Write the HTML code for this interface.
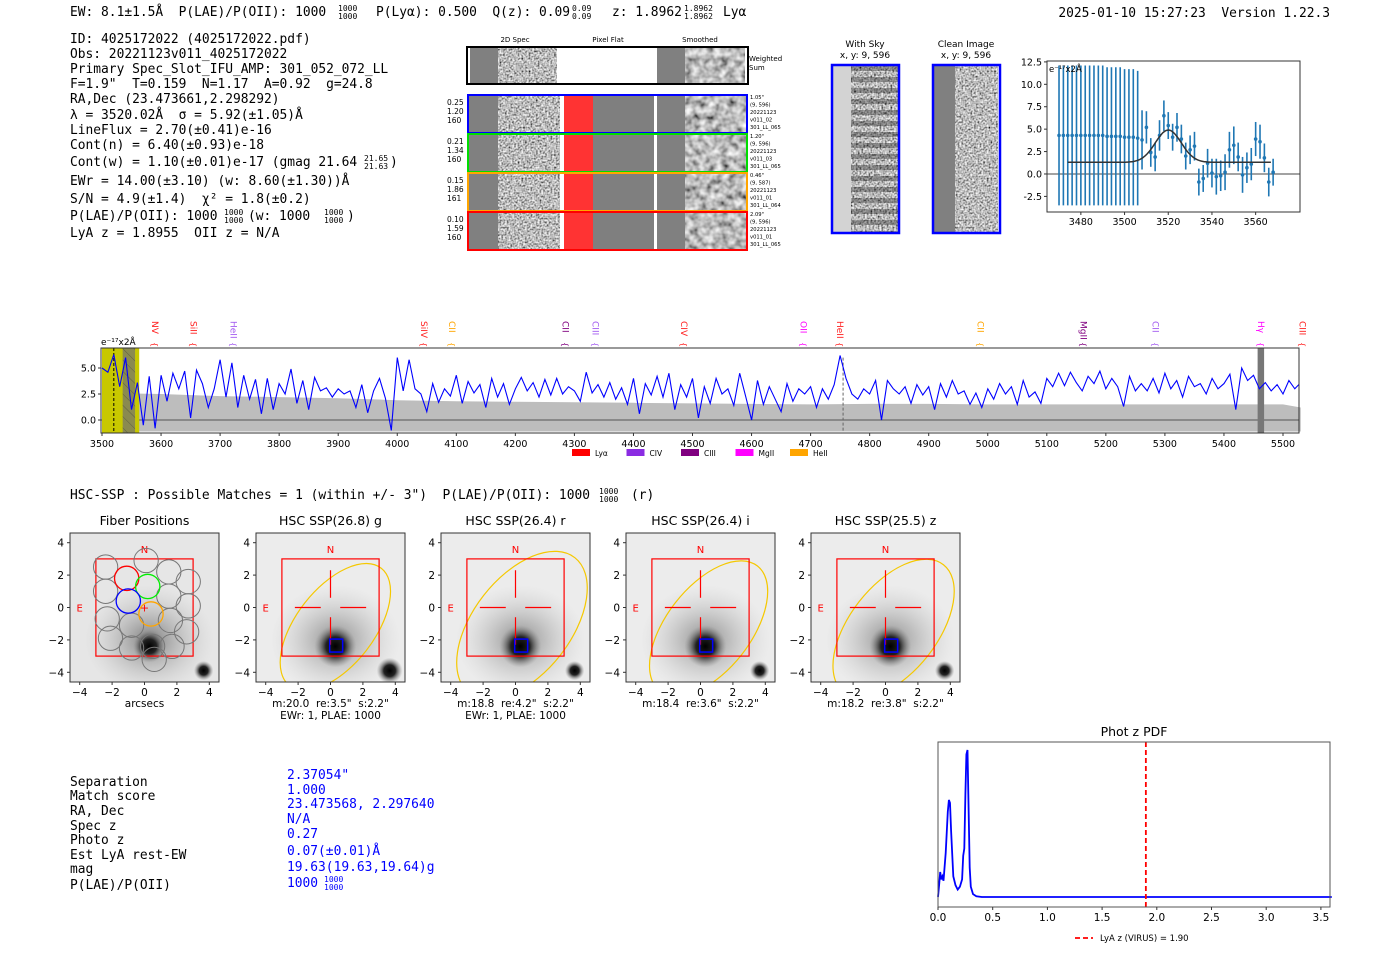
<!DOCTYPE html>
<html><head><meta charset="utf-8"><style>
html,body{margin:0;padding:0;background:#fff;}
svg{display:block;}
.m{font-family:"DejaVu Sans Mono","Liberation Mono",monospace;font-size:12.9px;fill:#000;white-space:pre;}
.m.f{font-size:8px;}
.s{font-family:"DejaVu Sans","Liberation Sans",sans-serif;}
</style></head><body>
<svg id="root" width="1400" height="953" viewBox="0 0 1400 953" xmlns="http://www.w3.org/2000/svg">
<defs>
<filter id="nz" x="0" y="0" width="1" height="1" filterUnits="objectBoundingBox"><feTurbulence type="fractalNoise" baseFrequency="0.55" numOctaves="1" seed="4"/><feColorMatrix type="matrix" values="1.7 0 0 0 -0.35 1.7 0 0 0 -0.35 1.7 0 0 0 -0.35 0 0 0 0 1"/></filter>
<filter id="nzs" x="0" y="0" width="1" height="1" filterUnits="objectBoundingBox"><feTurbulence type="fractalNoise" baseFrequency="0.14" numOctaves="2" seed="7"/><feColorMatrix type="matrix" values="1.3 0 0 0 -0.15 1.3 0 0 0 -0.15 1.3 0 0 0 -0.15 0 0 0 0 1"/></filter>
<pattern id="stripes" width="10" height="11" patternUnits="userSpaceOnUse"><rect width="10" height="5" fill="#000" opacity="0.3"/></pattern>
<pattern id="hatch" width="8" height="8" patternUnits="userSpaceOnUse" patternTransform="rotate(-45)"><line x1="0" y1="0" x2="0" y2="8" stroke="#333" stroke-width="1"/></pattern>
<radialGradient id="core"><stop offset="0" stop-color="#000"/><stop offset="0.45" stop-color="#222"/><stop offset="1" stop-color="#888" stop-opacity="0"/></radialGradient>
<radialGradient id="halo"><stop offset="0" stop-color="#555" stop-opacity="0.8"/><stop offset="0.5" stop-color="#888" stop-opacity="0.4"/><stop offset="1" stop-color="#bbb" stop-opacity="0"/></radialGradient>
</defs>

<g>
<text class="m" x="70" y="16">EW: 8.1±1.5Å  P(LAE)/P(OII): 1000</text>
<text class="m f" x="338" y="11">1000</text><text class="m f" x="338" y="19">1000</text>
<text class="m" x="376" y="16">P(Lyα): 0.500  Q(z): 0.09</text>
<text class="m f" x="572" y="11">0.09</text><text class="m f" x="572" y="19">0.09</text>
<text class="m" x="612" y="16">z: 1.8962</text>
<text class="m f" x="684" y="11">1.8962</text><text class="m f" x="684" y="19">1.8962</text>
<text class="m" x="723" y="16">Lyα</text>
<text class="m" x="1330" y="17" text-anchor="end">2025-01-10 15:27:23  Version 1.22.3</text>
</g>

<g>
<text class="m" x="70" y="43">ID: 4025172022 (4025172022.pdf)</text>
<text class="m" x="70" y="58">Obs: 20221123v011_4025172022</text>
<text class="m" x="70" y="73">Primary Spec_Slot_IFU_AMP: 301_052_072_LL</text>
<text class="m" x="70" y="88">F=1.9"  T=0.159  N=1.17  A=0.92  g=24.8</text>
<text class="m" x="70" y="103">RA,Dec (23.473661,2.298292)</text>
<text class="m" x="70" y="119">λ = 3520.02Å  σ = 5.92(±1.05)Å</text>
<text class="m" x="70" y="134">LineFlux = 2.70(±0.41)e-16</text>
<text class="m" x="70" y="149">Cont(n) = 6.40(±0.93)e-18</text>
<text class="m" x="70" y="166">Cont(w) = 1.10(±0.01)e-17 (gmag 21.64</text>
<text class="m f" x="364" y="161">21.65</text><text class="m f" x="364" y="169">21.63</text>
<text class="m" x="390" y="166">)</text>
<text class="m" x="70" y="185">EWr = 14.00(±3.10) (w: 8.60(±1.30))Å</text>
<text class="m" x="70" y="203">S/N = 4.9(±1.4)  χ² = 1.8(±0.2)</text>
<text class="m" x="70" y="220">P(LAE)/P(OII): 1000</text>
<text class="m f" x="224" y="215">1000</text><text class="m f" x="224" y="223">1000</text>
<text class="m" x="248" y="220">(w: 1000</text>
<text class="m f" x="324" y="215">1000</text><text class="m f" x="324" y="223">1000</text>
<text class="m" x="347" y="220">)</text>
<text class="m" x="70" y="237">LyA z = 1.8955  OII z = N/A</text>
</g>

<g id="spec2d" class="s">
<text x="515" y="42" font-size="7" text-anchor="middle">2D Spec</text>
<text x="608" y="42" font-size="7" text-anchor="middle">Pixel Flat</text>
<text x="700" y="42" font-size="7" text-anchor="middle">Smoothed</text>
<g>
<rect x="467" y="47" width="281" height="37" fill="#fff" stroke="#000" stroke-width="2"/>
<rect x="470" y="48" width="28" height="35" fill="#808080"/>
<rect x="498" y="48" width="59" height="35" filter="url(#nz)"/>
<rect x="657" y="48" width="28" height="35" fill="#808080"/>
<rect x="685" y="48" width="60" height="35" filter="url(#nzs)"/>
<text x="749" y="61" font-size="7">Weighted</text><text x="749" y="70" font-size="7">Sum</text>
</g>
</g>

<g class="s">
<text x="865" y="47" font-size="9" text-anchor="middle">With Sky</text>
<text x="865" y="58" font-size="9" text-anchor="middle">x, y: 9, 596</text>
<rect x="833" y="66" width="18" height="166" fill="#d3d3d3"/>
<rect x="851" y="66" width="47" height="166" filter="url(#nz)"/>
<rect x="851" y="66" width="47" height="166" fill="url(#stripes)"/>
<rect x="832" y="65" width="67" height="168" fill="none" stroke="#00f" stroke-width="2.5"/>
</g>
<g class="s">
<text x="966" y="47" font-size="9" text-anchor="middle">Clean Image</text>
<text x="966" y="58" font-size="9" text-anchor="middle">x, y: 9, 596</text>
<rect x="934" y="66" width="21" height="166" fill="#808080"/>
<rect x="955" y="66" width="43" height="166" filter="url(#nz)"/>
<rect x="933" y="65" width="67" height="168" fill="none" stroke="#00f" stroke-width="2.5"/>
</g>

<g id="fitplot" class="s"></g>
<g id="specplot" class="s"></g>

<text class="m" x="70" y="499">HSC-SSP : Possible Matches = 1 (within +/- 3")  P(LAE)/P(OII): 1000</text>
<text class="m f" x="599" y="494">1000</text><text class="m f" x="599" y="502">1000</text>
<text class="m" x="631" y="499">(r)</text>

<g id="cutouts" class="s"></g>

<g>
<text class="m" x="70" y="786">Separation</text>
<text class="m" x="70" y="800">Match score</text>
<text class="m" x="70" y="815">RA, Dec</text>
<text class="m" x="70" y="830">Spec z</text>
<text class="m" x="70" y="844">Photo z</text>
<text class="m" x="70" y="859">Est LyA rest-EW</text>
<text class="m" x="70" y="873">mag</text>
<text class="m" x="70" y="889">P(LAE)/P(OII)</text>
<text class="m" style="fill:#00f" x="287" y="779">2.37054"</text>
<text class="m" style="fill:#00f" x="287" y="794">1.000</text>
<text class="m" style="fill:#00f" x="287" y="808">23.473568, 2.297640</text>
<text class="m" style="fill:#00f" x="287" y="823">N/A</text>
<text class="m" style="fill:#00f" x="287" y="838">0.27</text>
<text class="m" style="fill:#00f" x="287" y="855">0.07(±0.01)Å</text>
<text class="m" style="fill:#00f" x="287" y="871">19.63(19.63,19.64)g</text>
<text class="m" style="fill:#00f" x="287" y="887">1000</text>
<text class="m f" style="fill:#00f" x="324" y="882">1000</text><text class="m f" style="fill:#00f" x="324" y="890">1000</text>
</g>

<g id="photz" class="s"></g>
</svg>

<script>
const rowOffsets = ["0.25","1.20","160","0.21","1.34","160","0.15","1.86","161","0.10","1.59","160"];
const fitWave = [3470,3472,3474,3476,3478,3480,3482,3484,3486,3488,3490,3492,3494,3496,3498,3500,3502,3504,3506,3508,3510,3512,3514,3516,3518,3520,3522,3524,3526,3528,3530,3532,3534,3536,3538,3540,3542,3544,3546,3548,3550,3552,3554,3556,3558,3560,3562,3564,3566,3568];
const fitFlux = [4.3,4.3,4.3,4.3,4.3,4.3,4.3,4.3,4.3,4.3,4.3,4.2,4.2,4.2,4.2,4.1,4.1,4.1,4.0,3.8,5.2,2.4,1.9,4.3,6.5,5.4,4.1,5.2,3.9,2.0,2.7,3.1,-0.9,-0.5,1.2,0.1,-0.3,-0.2,0.2,2.7,3.2,1.9,-0.1,0.7,1.1,3.9,3.6,1.8,-0.9,0.2];
const fitErr = [7.8,7.8,7.8,7.8,7.8,7.8,7.8,7.8,7.8,7.8,7.8,7.7,7.7,7.7,7.7,7.6,7.6,7.6,7.5,3.3,1.8,1.6,1.6,1.7,1.7,1.5,1.5,1.6,1.6,1.5,1.6,1.6,1.5,1.5,1.6,1.6,2.0,1.7,2.0,2.0,2.1,1.6,2.0,1.7,1.8,1.9,1.9,1.6,1.6,1.5];
const fitParams = [3520.02, 5.92, 3.6, 1.3];
const fitTicksX = [3480,3500,3520,3540,3560];
const fitTicksY = [-2.5,0.0,2.5,5.0,7.5,10.0,12.5];

const specStart = 3500, specStep = 10;
const specFlux = [
5.0,4.6,6.3,3.2,6.0,1.0,3.6,-0.5,4.2,-0.8,
4.3,1.8,4.5,3.0,4.7,0.2,4.8,3.5,1.2,3.0,
5.8,2.2,5.5,1.2,4.3,2.0,3.9,0.6,4.0,1.0,
3.5,2.5,4.9,1.6,3.8,1.0,4.1,2.8,3.1,2.2,
3.0,2.5,2.8,1.2,3.4,0.7,2.8,4.0,2.1,-1.0,
6.0,2.8,5.8,3.0,2.5,0.8,3.5,1.7,3.0,2.3,
4.3,1.6,3.7,2.6,3.4,1.2,4.0,2.2,3.5,1.5,
3.0,4.1,2.8,3.6,2.2,3.9,2.4,4.0,2.5,3.2,
2.8,1.8,4.6,2.6,3.4,2.2,3.6,2.0,3.1,1.5,
4.0,0.6,3.5,2.4,4.2,2.2,4.5,1.0,3.4,2.2,
4.0,0.2,3.2,1.6,4.0,2.5,3.0,1.4,4.5,2.3,
0.0,3.8,1.5,3.2,2.0,0.8,3.5,1.8,3.0,2.5,
3.2,1.2,3.0,2.0,3.4,6.2,4.0,2.5,2.0,3.0,
2.5,3.8,0.0,3.8,3.0,2.5,3.2,1.6,3.4,2.4,
3.2,1.0,3.5,2.2,3.8,2.5,2.8,1.5,2.6,1.2,
3.0,2.0,3.5,2.5,3.2,1.5,3.8,2.2,2.7,1.6,
4.0,3.2,4.5,3.3,4.6,3.6,2.8,4.2,3.5,4.7,
3.0,4.0,3.2,1.3,4.2,2.8,3.5,2.8,4.0,2.6,
4.5,3.0,3.8,2.2,4.2,3.2,3.5,2.5,4.0,3.0,
3.5,4.4,1.0,5.0,3.8,4.3,3.0,3.6,2.8,3.4,
2.5,3.8,3.0,3.6];
const errWave = [3500,3600,3700,3800,3900,4000,4100,4200,4300,4400,4500,4600,4700,4800,4900,5000,5100,5200,5300,5400,5500,5530];
const errVal = [2.6,2.5,2.3,2.2,2.1,1.9,1.8,1.75,1.7,1.65,1.6,1.55,1.5,1.55,1.55,1.5,1.5,1.5,1.5,1.5,1.5,1.2];
const specTicksX = [3500,3600,3700,3800,3900,4000,4100,4200,4300,4400,4500,4600,4700,4800,4900,5000,5100,5200,5300,5400,5500];
const specTicksY = [0.0,2.5,5.0];
const lineNames = ["NV","SiII","HeII","SiIV","CII","CII","CIII","CIV","OII","HeII","CII","MgII","CII","Hγ","CIII"];
const lineWaves = [3590,3655,3723,4045,4093,4285,4336,4486,4688,4750,4988,5162,5284,5463,5533];
const lineColors = ["#ff2020","#ff2020","#a35cf0","#ff2020","#ffa500","#800080","#a35cf0","#ff2020","#ff00ff","#ff2020","#ffa500","#800080","#a35cf0","#ff00ff","#ff2020"];
const legendNames = ["Lyα","CIV","CIII","MgII","HeII"];
const legendColors = ["#ff0000","#8a2be2","#800080","#ff00ff","#ffa500"];

const pzZ = [0,0.01,0.02,0.03,0.04,0.05,0.07,0.09,0.10,0.11,0.12,0.14,0.16,0.18,0.20,0.22,0.23,0.24,0.25,0.26,0.27,0.28,0.29,0.30,0.32,0.35,0.40,1.0,2.0,3.0,3.6];
const pzP = [0,0.08,0.17,0.12,0.14,0.11,0.3,0.58,0.66,0.64,0.45,0.14,0.08,0.05,0.07,0.12,0.28,0.33,0.7,0.97,1.0,0.6,0.2,0.07,0.02,0.005,0,0,0,0,0];
const pzTicks = [0.0,0.5,1.0,1.5,2.0,2.5,3.0,3.5];
const lyaZ = 1.90;

const cutTitles = ["Fiber Positions","HSC SSP(26.8) g","HSC SSP(26.4) r","HSC SSP(26.4) i","HSC SSP(25.5) z"];
const cutSub1 = ["arcsecs",'m:20.0  re:3.5"  s:2.2"','m:18.8  re:4.2"  s:2.2"','m:18.4  re:3.6"  s:2.2"','m:18.2  re:3.8"  s:2.2"'];
const cutSub2 = ["","EWr: 1, PLAE: 1000","EWr: 1, PLAE: 1000","",""];
const fiberX = [-2.4,0.1,1.5,2.7,-2.4,1.5,2.7,-2.3,-0.8,1.6,2.6,-2.1,0.5,1.7,-0.8,0.6];
const fiberY = [2.5,2.9,2.2,1.6,1.0,0.7,0.1,-0.7,-1.1,-0.8,-1.5,-1.9,-2.4,-2.4,-2.5,-3.2];
const colFiberX = [-1.1,0.2,-1.0,0.4];
const colFiberY = [1.8,1.3,0.4,-0.4];
const colFiberC = ["#ff0000","#00ee00","#0000ff","#ffa500"];
const ellCx = [0,0.3,0.4,0.5,0.5];
const ellCy = [0,-1.2,-1.1,-1.3,-1.3];
const ellA = [0,4.6,5.3,4.9,5.0];
const ellB = [0,2.4,3.0,2.6,2.7];

const NS="http://www.w3.org/2000/svg";
function mk(parent, tag, attrs, txt){const e=document.createElementNS(NS,tag);for(const k in attrs)e.setAttribute(k,attrs[k]);if(txt!==undefined)e.textContent=txt;parent.appendChild(e);return e;}

(function(){
  const g=document.getElementById('spec2d');
  const cols=["#0000ff","#00dd00","#ffa500","#ff0000"];
  const tops=[95,134,173,212];
  const info=[['1.05"','(9, 596)','20221123','v011_02','301_LL_065'],['1.20"','(9, 596)','20221123','v011_03','301_LL_065'],['0.46"','(9, 587)','20221123','v011_01','301_LL_064'],['2.09"','(9, 596)','20221123','v011_01','301_LL_065']];
  for(let i=0;i<4;i++){
    const t=tops[i];
    const r=mk(g,'g',{});
    
    
    mk(r,'rect',{x:468,y:t,width:279,height:38,fill:'#fff'});
    mk(r,'rect',{x:469,y:t+1,width:29,height:36,fill:'#808080'});
    mk(r,'rect',{x:498,y:t+1,width:62,height:36,filter:'url(#nz)'});
    mk(r,'rect',{x:564,y:t+1,width:29,height:36,fill:'#ff3333'});
    mk(r,'rect',{x:593,y:t+1,width:61,height:36,fill:'#7f7f7f'});
    mk(r,'rect',{x:657,y:t+1,width:28,height:36,fill:'#808080'});
    mk(r,'rect',{x:685,y:t+1,width:61,height:36,filter:'url(#nzs)'});
    mk(r,'rect',{x:468,y:t,width:279,height:38,fill:'none',stroke:cols[i],'stroke-width':2});
    for(let k=0;k<3;k++) mk(r,'text',{x:447,y:t+10+k*9,'font-size':7.5},rowOffsets[i*3+k]);
    for(let k=0;k<5;k++) mk(r,'text',{x:750,y:t+4+k*7.5,'font-size':5.2},info[i][k]);
  }
})();

(function(){
  const g=document.getElementById('fitplot');
  const L=1047,R=1300,T=61,B=212, x0=3464.5,x1=3580.3,y0=-4.24,y1=12.6;
  const X=w=>L+(w-x0)/(x1-x0)*(R-L), Y=v=>B-(v-y0)/(y1-y0)*(B-T);
  mk(g,'line',{x1:L,x2:R,y1:Y(0),y2:Y(0),stroke:'#444','stroke-width':1});
  for(let i=0;i<fitWave.length;i++){
    const e=mk(g,'line',{x1:X(fitWave[i]),x2:X(fitWave[i]),y1:Y(Math.min(fitFlux[i]+fitErr[i],y1)),y2:Y(fitFlux[i]-fitErr[i]),stroke:'#1f77b4','stroke-width':1.6});
    
    
    const c=mk(g,'circle',{cx:X(fitWave[i]),cy:Y(fitFlux[i]),r:1.8,fill:'#1f77b4'});
    
    
  }
  let d='';
  for(let w=3474;w<=3567;w+=0.5){const v=fitParams[3]+fitParams[2]*Math.exp(-0.5*Math.pow((w-fitParams[0])/fitParams[1],2));d+=(d?'L':'M')+X(w).toFixed(1)+','+Y(v).toFixed(1);}
  const fl=mk(g,'path',{d:d,fill:'none',stroke:'#333','stroke-width':1.5});
  
  
  mk(g,'rect',{x:L,y:T,width:R-L,height:B-T,fill:'none',stroke:'#333','stroke-width':1});
  fitTicksX.forEach(t=>{mk(g,'line',{x1:X(t),x2:X(t),y1:B,y2:B+3,stroke:'#333'});mk(g,'text',{x:X(t),y:B+13,'font-size':9.5,'text-anchor':'middle'},t);});
  fitTicksY.forEach(t=>{mk(g,'line',{x1:L-3,x2:L,y1:Y(t),y2:Y(t),stroke:'#333'});mk(g,'text',{x:L-5,y:Y(t)+3.5,'font-size':9.5,'text-anchor':'end'},t.toFixed(1));});
  mk(g,'text',{x:L+2,y:T+11,'font-size':8.5},'e⁻¹⁷x2Å');
})();

(function(){
  const g=document.getElementById('specplot');
  const L=101,R=1299,T=348,B=433, pxA=1181/2000;
  const X=w=>102+(w-3500)*pxA, Y=v=>420-v*10.4;
  let d='M'+X(errWave[0])+','+Y(-1.1);
  errWave.forEach((w,i)=>{d+='L'+X(w).toFixed(1)+','+Y(errVal[i]).toFixed(1);});
  d+='L'+X(errWave[errWave.length-1])+','+Y(-1.1)+'Z';
  const ef=mk(g,'path',{d:d,fill:'#bdbdbd'});
  
  
  mk(g,'line',{x1:L,x2:R,y1:Y(0),y2:Y(0),stroke:'#555','stroke-width':1});
  mk(g,'rect',{x:X(3500),y:T,width:X(3563)-X(3500),height:B-T,fill:'#c8c800'});
  mk(g,'rect',{x:X(3535),y:T,width:X(3556)-X(3535),height:B-T,fill:'#8a8a50'});
  mk(g,'rect',{x:X(3535),y:T,width:X(3556)-X(3535),height:B-T,fill:'url(#hatch)',opacity:0.5});
  mk(g,'line',{x1:X(3520),x2:X(3520),y1:T,y2:B,stroke:'#000','stroke-dasharray':'3,2'});
  mk(g,'rect',{x:X(5457),y:T,width:X(5468)-X(5457),height:B-T,fill:'#777'});
  mk(g,'line',{x1:X(4755),x2:X(4755),y1:Y(6),y2:B,stroke:'#666','stroke-dasharray':'3,2'});
  let p='';
  specFlux.forEach((v,i)=>{const w=specStart+specStep*i;p+=(p?'L':'M')+X(w).toFixed(1)+','+Y(v).toFixed(1);});
  const cp=mk(g,'clipPath',{id:'spclip'});
  mk(cp,'rect',{x:L,y:T,width:R-L,height:B-T});
  const sl=mk(g,'path',{d:p,fill:'none',stroke:'#0000ff','stroke-width':1.1,'clip-path':'url(#spclip)'});
  
  
  mk(g,'rect',{x:L,y:T,width:R-L,height:B-T,fill:'none',stroke:'#333','stroke-width':1});
  specTicksX.forEach(t=>{mk(g,'line',{x1:X(t),x2:X(t),y1:B,y2:B+3,stroke:'#333'});mk(g,'text',{x:X(t),y:B+14,'font-size':9.5,'text-anchor':'middle'},t);});
  specTicksY.forEach(t=>{mk(g,'line',{x1:L-3,x2:L,y1:Y(t),y2:Y(t),stroke:'#333'});mk(g,'text',{x:L-5,y:Y(t)+3.5,'font-size':9.5,'text-anchor':'end'},t.toFixed(1));});
  mk(g,'text',{x:L,y:T-3,'font-size':9},'e⁻¹⁷x2Å');
  lineNames.forEach((n,i)=>{
    const x=X(lineWaves[i]);
    const t=mk(g,'text',{x:0,y:0,'font-size':9,fill:lineColors[i],transform:'translate('+(x-3)+',321) rotate(90)'},n);
    
    
    mk(g,'text',{x:0,y:0,'font-size':8,fill:lineColors[i],transform:'translate('+(x-3)+',342) rotate(90)'},'{');
  });
  legendNames.forEach((n,i)=>{
    const x=572+i*54.5;
    const lg=mk(g,'g',{});
    
    
    mk(lg,'rect',{x:x,y:449,width:18,height:7,fill:legendColors[i]});
    mk(lg,'text',{x:x+23,y:456,'font-size':7.5},n);
  });
})();

(function(){
  const g=document.getElementById('cutouts');
  const lefts=[70,256,441,626,811], top=533, S=16.2, W=149;
  lefts.forEach((lx,i)=>{
    const cx=lx+W/2, cy=top+W/2;
    const P=(a,b)=>[cx+a*S, cy-b*S];
    const pg=mk(g,'g',{});
    
    
    const cid='cc'+i;
    const cp=mk(pg,'clipPath',{id:cid});mk(cp,'rect',{x:lx,y:top,width:W,height:W});
    const ig=mk(pg,'g',{'clip-path':'url(#'+cid+')'});
    mk(ig,'rect',{x:lx,y:top,width:W,height:W,fill:i==0?'#e6e6e6':'#ececec'});
    let h=P(0.3,-2.0); mk(ig,'ellipse',{cx:h[0],cy:h[1],rx:4.0*S,ry:3.4*S,fill:'url(#halo)',opacity:i==0?0.9:0.8});
    h=P(0.3,-2.4); mk(ig,'circle',{cx:h[0],cy:h[1],r:(i==0?1.0:1.3)*S,fill:'url(#core)'});
    h=P(3.65,-3.9); mk(ig,'circle',{cx:h[0],cy:h[1],r:(i==1?0.8:0.6)*S,fill:'url(#core)'});
    let a=P(-3,3); mk(pg,'rect',{x:a[0],y:a[1],width:6*S,height:6*S,fill:'none',stroke:'#ff0000','stroke-width':1.2});
    a=P(0,3.6); mk(pg,'text',{x:a[0],y:a[1]+4,'font-size':10,fill:'#ff0000','text-anchor':'middle'},'N');
    a=P(-4,0); mk(pg,'text',{x:a[0],y:a[1]+4,'font-size':10,fill:'#ff0000','text-anchor':'middle'},'E');
    if(i==0){
      fiberX.forEach((fx,k)=>{const q=P(fx,fiberY[k]);const c=mk(pg,'circle',{cx:q[0],cy:q[1],r:0.75*S,fill:'none',stroke:'#777','stroke-width':1});});
      colFiberX.forEach((fx,k)=>{const q=P(fx,colFiberY[k]);const c=mk(pg,'circle',{cx:q[0],cy:q[1],r:0.75*S,fill:'none',stroke:colFiberC[k],'stroke-width':1.3});});
      a=P(0,0); mk(pg,'text',{x:a[0],y:a[1]+4,'font-size':11,fill:'#ff0000','text-anchor':'middle'},'+');
    } else {
      const seg=[[0,2.3,0,0.6],[0,-0.6,0,-2.3],[-2.2,0,-0.6,0],[0.6,0,2.2,0]];
      seg.forEach(s=>{const p1=P(s[0],s[1]),p2=P(s[2],s[3]);mk(pg,'line',{x1:p1[0],y1:p1[1],x2:p2[0],y2:p2[1],stroke:'#ff0000','stroke-width':1.2});});
      a=P(-0.05,-1.95); mk(pg,'rect',{x:a[0],y:a[1],width:0.8*S,height:0.8*S,fill:'none',stroke:'#0000ff','stroke-width':1.5});
      a=P(ellCx[i],ellCy[i]);
      const el=mk(ig,'ellipse',{cx:a[0],cy:a[1],rx:ellA[i]*S,ry:ellB[i]*S,fill:'none',stroke:'#f5c800','stroke-width':1.2,transform:'rotate(-52 '+a[0]+' '+a[1]+')'});
      
      
    }
    mk(pg,'rect',{x:lx,y:top,width:W,height:W,fill:'none',stroke:'#333','stroke-width':1});
    [-4,-2,0,2,4].forEach(t=>{
      let q=P(t,0); mk(pg,'line',{x1:q[0],x2:q[0],y1:top+W,y2:top+W+3,stroke:'#333'});
      mk(pg,'text',{x:q[0],y:top+W+14,'font-size':10.5,'text-anchor':'middle'},t<0?'−'+(-t):t);
      q=P(0,t); mk(pg,'line',{x1:lx-3,x2:lx,y1:q[1],y2:q[1],stroke:'#333'});
      mk(pg,'text',{x:lx-6,y:q[1]+4,'font-size':10.5,'text-anchor':'end'},t<0?'−'+(-t):t);
    });
    mk(pg,'text',{x:cx,y:top-8,'font-size':12.5,'text-anchor':'middle'},cutTitles[i]);
    mk(pg,'text',{x:cx,y:top+W+25,'font-size':10.5,'text-anchor':'middle','style':'white-space:pre'},cutSub1[i]);
    if(cutSub2[i]) mk(pg,'text',{x:cx,y:top+W+37,'font-size':10.5,'text-anchor':'middle'},cutSub2[i]);
  });
})();

(function(){
  const g=document.getElementById('photz');
  const L=938,R=1330,T=742,B=907;
  const X=z=>L+z*109.4, Y=p=>897-p*147;
  mk(g,'text',{x:(L+R)/2,y:T-6,'font-size':12.5,'text-anchor':'middle'},'Phot z PDF');
  let d='';
  pzZ.forEach((z,i)=>{d+=(d?'L':'M')+X(z).toFixed(1)+','+Y(pzP[i]).toFixed(1);});
  const c=mk(g,'path',{d:d,fill:'none',stroke:'#0000ff','stroke-width':1.8});
  
  
  const v=mk(g,'line',{x1:X(lyaZ),x2:X(lyaZ),y1:T,y2:B,stroke:'#ff0000','stroke-width':1.8,'stroke-dasharray':'5,3'});
  
  
  mk(g,'rect',{x:L,y:T,width:R-L,height:B-T,fill:'none',stroke:'#555','stroke-width':1});
  pzTicks.forEach(t=>{mk(g,'line',{x1:X(t),x2:X(t),y1:B,y2:B+3,stroke:'#333'});mk(g,'text',{x:X(t),y:B+14,'font-size':10.5,'text-anchor':'middle'},t.toFixed(1));});
  const lg=mk(g,'g',{});
  
  
  mk(lg,'line',{x1:1075,x2:1093,y1:938,y2:938,stroke:'#ff0000','stroke-width':1.8,'stroke-dasharray':'5,3'});
  mk(lg,'text',{x:1100,y:941,'font-size':8.5},'LyA z (VIRUS) = 1.90');
})();
</script>
</body></html>
